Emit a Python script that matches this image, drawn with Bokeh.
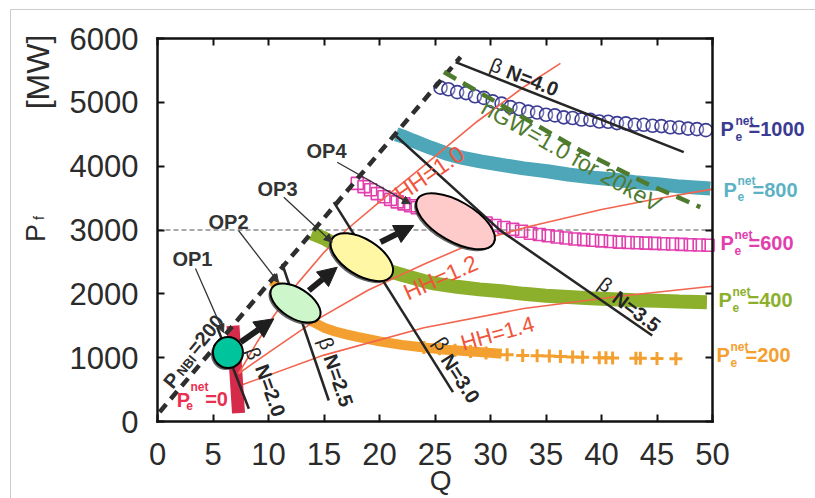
import numpy as np
from bokeh.plotting import figure
from bokeh.models import Range1d, LinearAxis, FixedTicker, Arrow, NormalHead
from bokeh.core.properties import value
from bokeh.embed import file_html
from bokeh.resources import INLINE

# ---------------- data ----------------
q_ticks = [0, 5, 10, 15, 20, 25, 30, 35, 40, 45, 50]
pf_ticks = [0, 1000, 2000, 3000, 4000, 5000, 6000]

# P_e^net = 1000 (open circles)
pe1000_q = [25.5, 26.2, 27.0, 27.8, 28.6, 29.4, 30.2, 31.0, 31.8, 32.6, 33.4, 34.2, 35.0, 35.8, 36.6,
            37.4, 38.2, 39.0, 39.8, 40.6, 41.4, 42.2, 43.0, 43.8, 44.6, 45.4, 46.2, 47.0, 47.8, 48.6, 49.4]
pe1000_pf = [5230, 5205, 5160, 5145, 5095, 5070, 5015, 4980, 4925, 4895, 4855, 4840, 4805, 4795, 4765,
             4755, 4730, 4725, 4700, 4695, 4675, 4670, 4650, 4648, 4632, 4628, 4610, 4605, 4588, 4580, 4565]
# P_e^net = 800 (band)
pe800_q = [21.5, 22.2, 23.0, 24.6, 26.0, 27.5, 29.1, 31.0, 33.0, 35.1, 37.0, 39.3, 41.1, 43.0, 45.3, 47.1, 49.8]
pe800_pf = [4500, 4460, 4400, 4290, 4200, 4130, 4075, 4020, 3965, 3920, 3870, 3820, 3790, 3750, 3715, 3680, 3650]
# P_e^net = 600 (open squares)
pe600_q = [18.0, 18.6, 19.2, 19.8, 20.4, 21.0, 21.6, 22.2, 22.8, 23.4, 24.0, 24.8, 25.6, 26.4, 27.2, 28.0,
           28.8, 29.6, 30.4, 31.2, 32.0, 32.8, 33.6, 34.4, 35.2, 36.0, 36.8, 37.6, 38.4, 39.2, 40.0, 40.8,
           41.6, 42.4, 43.2, 44.0, 44.8, 45.6, 46.4, 47.2, 48.0, 48.8, 49.6]
pe600_pf = [3730, 3680, 3630, 3570, 3520, 3480, 3440, 3410, 3380, 3350, 3320, 3290, 3260, 3230, 3200, 3170,
            3140, 3110, 3070, 3040, 3010, 2980, 2950, 2930, 2910, 2890, 2875, 2860, 2850, 2840, 2830, 2820,
            2810, 2805, 2800, 2795, 2790, 2785, 2780, 2775, 2770, 2765, 2760]
# P_e^net = 400 (band)
pe400_q = [13.9, 15.0, 16.0, 17.0, 18.0, 19.0, 20.0, 21.0, 22.0, 23.0, 24.0, 25.0, 27.0, 29.0, 31.0, 33.0,
           35.0, 37.0, 39.0, 41.0, 43.0, 45.0, 47.0, 49.5]
pe400_pf = [2950, 2870, 2770, 2670, 2580, 2500, 2420, 2350, 2300, 2250, 2200, 2160, 2110, 2070, 2040, 2000,
            1970, 1950, 1930, 1915, 1900, 1890, 1880, 1870]
# P_e^net = 200 (dense band, then crosses)
pe200_band_q = [10.4, 11.0, 12.0, 13.0, 14.0, 15.0, 16.0, 17.0, 18.0, 19.0, 20.0, 22.0, 24.0, 26.0, 28.0, 30.0, 31.0]
pe200_band_pf = [2200, 2060, 1860, 1690, 1560, 1470, 1410, 1365, 1325, 1290, 1255, 1200, 1160, 1125, 1100, 1075, 1060]
pe200_q = [24.0, 25.4, 26.8, 28.2, 29.6, 31.5, 32.9, 34.2, 35.3, 36.3, 37.4, 38.3, 39.8, 40.4, 41.0, 43.1, 43.5, 45.0, 46.7]
pe200_pf = [1160, 1140, 1115, 1095, 1075, 1045, 1035, 1030, 1025, 1018, 1012, 1008, 1000, 998, 995, 990, 990, 985, 982]
# P_e^net = 0 (band)
pe0_q = [6.8, 7.05, 7.3]
pe0_pf = [1500, 800, 130]

# confinement (HH) lines
hh10_q = [7.3, 9.0, 10.5, 12.6, 15.0, 17.0, 20.0, 24.0, 28.8, 33.0, 36.3]
hh10_pf = [750, 1250, 1660, 2160, 2650, 3000, 3440, 4010, 4700, 5240, 5610]
hh12_q = [7.3, 10.0, 14.2, 19.0, 24.1, 29.0, 33.6, 40.0, 45.0, 50.0]
hh12_pf = [750, 1080, 1580, 2060, 2470, 2840, 3060, 3320, 3490, 3640]
hh14_q = [7.7, 15.0, 24.0, 33.0, 42.0, 50.0]
hh14_pf = [580, 1040, 1470, 1770, 1970, 2120]

# beta_N lines
bn20_q = [5.38, 8.23];   bn20_pf = [1477, 199]
bn25_q = [11.23, 15.43]; bn25_pf = [2471, 329]
bn30_q = [15.88, 26.62]; bn30_pf = [3436, 459]
bn35_q = [21.44, 30.9, 44.57]; bn35_pf = [4480, 2990, 1347]
bn40_q = [26.85, 47.41]; bn40_pf = [5629, 4219]

# P_NBI = 200 line and Greenwald line
nbi_q = [0.2, 27.3];   nbi_pf = [150, 5710]
ngw_q = [25.8, 32.1, 38.1, 44.1, 48.9]
ngw_pf = [5474, 4847, 4247, 3725, 3358]
ref_pf = 3000

# operating points
op_names = ["OP1", "OP2", "OP3", "OP4"]
op_q = [6.35, 12.43, 18.41, 26.85]
op_pf = [1080, 1856, 2574, 3136]

# ---------------- figure ----------------
FONT = "Liberation Sans"
NAVY, TEAL, MAG, OLIVE, ORANGE, RED = "#3b3b93", "#4ea6b9", "#e23fae", "#8cb02c", "#f4a030", "#d52b4a"
HH_C, HH_T, BN_C, GW_C, DARK = "#f2644e", "#f0553c", "#262626", "#4f7b2f", "#2b2b2b"

W, H = 815, 498
# frame fills the canvas; the axes sit at fixed data locations (Q: 0..50 over 555 px, P: 0..6000 over 383 px)
QPX, PPX = 555 / 50.0, 383 / 6000.0
x0 = -157 / QPX
x1 = 50 + (W - 712) / QPX
y1 = 6000 + 38 / PPX
y0 = -(H - 421) / PPX

p = figure(width=W, height=H, min_border=0, x_range=Range1d(x0, x1), y_range=Range1d(y0, y1),
           output_backend="svg", toolbar_location=None)
p.title.visible = False
p.grid.visible = False
p.outline_line_color = None


def style_axis(ax, show_labels):
    ax.axis_line_width = 2.5
    ax.axis_line_color = "#111111"
    ax.axis_line_cap = "square"
    ax.major_tick_in = 7
    ax.major_tick_out = 0
    ax.major_tick_line_width = 2
    ax.major_tick_line_color = "#111111"
    ax.minor_tick_line_color = None
    ax.major_label_text_font = FONT
    ax.major_label_text_font_size = "31px"
    ax.major_label_text_color = DARK
    if not show_labels:
        ax.major_label_text_alpha = 0


xa, ya = p.xaxis[0], p.yaxis[0]
style_axis(xa, True)
style_axis(ya, True)
xa.ticker = FixedTicker(ticks=q_ticks)
ya.ticker = FixedTicker(ticks=pf_ticks)
xa.fixed_location = 0
ya.fixed_location = 0
xa.bounds = (0, 50)
ya.bounds = (0, 6000)
xa.major_label_standoff = 21
ya.major_label_standoff = 19

top = LinearAxis(ticker=FixedTicker(ticks=q_ticks), fixed_location=6000, bounds=(0, 50))
style_axis(top, False)
p.add_layout(top, "above")
right = LinearAxis(ticker=FixedTicker(ticks=pf_ticks), fixed_location=50, bounds=(0, 6000))
style_axis(right, False)
p.add_layout(right, "right")

# thin grey page frame (top and left edges of the original figure)
p.line([x0 + 10 / QPX, x1], [y1 - 9 / PPX, y1 - 9 / PPX], line_color="#cccccc", line_width=1)
p.line([x0 + 10 / QPX, x0 + 10 / QPX], [y0, y1 - 9 / PPX], line_color="#cccccc", line_width=1)

# reference line P_f = 3000
p.line([0, 50], [ref_pf, ref_pf], line_color="#555555", line_width=1.2, line_dash="5 3")

# fusion-power series
p.line(pe800_q, pe800_pf, line_color=TEAL, line_width=14)
p.line(pe400_q, pe400_pf, line_color=OLIVE, line_width=14)
p.line(pe200_band_q, pe200_band_pf, line_color=ORANGE, line_width=10)
p.scatter(pe200_q, pe200_pf, marker="cross", size=13, line_color=ORANGE, line_width=3)
p.line(pe0_q, pe0_pf, line_color=RED, line_width=13)
p.scatter(pe600_q, pe600_pf, marker="square", size=12, fill_color=None, line_color=MAG, line_width=1.6)
p.scatter(pe1000_q, pe1000_pf, marker="circle", size=13, fill_color="white", fill_alpha=0.3,
          line_color=NAVY, line_width=1.6)

# HH lines
for qq, pp in ((hh10_q, hh10_pf), (hh12_q, hh12_pf), (hh14_q, hh14_pf)):
    p.line(qq, pp, line_color=HH_C, line_width=1.6)
# beta_N lines
for qq, pp in ((bn20_q, bn20_pf), (bn25_q, bn25_pf), (bn30_q, bn30_pf), (bn35_q, bn35_pf), (bn40_q, bn40_pf)):
    p.line(qq, pp, line_color=BN_C, line_width=2.5)
# P_NBI line and Greenwald
p.line(nbi_q, nbi_pf, line_color="#2e2e2e", line_width=4.5, line_dash="10 7")
p.line(ngw_q, ngw_pf, line_color=GW_C, line_width=4.5, line_dash="14 8")

# operating-point ellipses (sizes in screen px)
op_w = [30, 56, 70, 88]
op_h = [31, 30, 36, 40]
op_ang = np.deg2rad([0, -32, -32, -30])
op_fill = ["#00c49c", "#cdf7cb", "#fff7a3", "#ffcaca"]
p.ellipse(x=[q - 0.18 for q in op_q], y=[v - 31 for v in op_pf], width=op_w, height=op_h, angle=op_ang,
          width_units="screen", height_units="screen", fill_color="#4a4a4a", line_color=None, fill_alpha=0.85)
p.ellipse(x=op_q, y=op_pf, width=op_w, height=op_h, angle=op_ang,
          width_units="screen", height_units="screen", fill_color=op_fill, line_color="black", line_width=2)


def ptext(q, pf, s, size, color, ang=0.0, bold=False, align="center", baseline="middle"):
    p.text(x=[q], y=[pf], text=[s], angle=float(np.deg2rad(ang)),
           text_font=value(FONT), text_font_size=value(f"{size}px"),
           text_font_style="bold" if bold else "normal", text_color=color,
           text_align=align, text_baseline=baseline)


# thick transition arrows
for a0, b0, a1, b1 in ((7.48, 1242, 10.48, 1609), (13.63, 2052, 16.19, 2417), (20.09, 2809, 23.09, 3071)):
    p.add_layout(Arrow(end=NormalHead(size=19, fill_color="#1e1e1e", line_color="#1e1e1e"),
                       x_start=a0, y_start=b0, x_end=a1, y_end=b1, line_width=6, line_color="#1e1e1e"))
# label pointers
for a0, b0, a1, b1 in ((3.42, 2397, 5.95, 1394), (7.30, 2992, 10.9, 2178),
                       (11.38, 3514, 15.74, 2809), (16.19, 4062, 22.79, 3410)):
    p.add_layout(Arrow(end=NormalHead(size=8, fill_color="#333333", line_color="#333333"),
                       x_start=a0, y_start=b0, x_end=a1, y_end=b1, line_width=1.3, line_color="#333333"))

# OP labels
for name, q, v in zip(op_names, [3.15, 6.40, 10.81, 15.23], [2538, 3118, 3650, 4230]):
    ptext(q, v, name, 20, "#333333", bold=True)

# beta_N labels
for bq, bp, nq, npf, ang, s in ((30.54, 5577, 33.78, 5342, -21.5, "N=4.0"),
                                (40.36, 2146, 43.15, 1723, -37, "N=3.5"),
                                (25.59, 1222, 27.3, 674, -57, "N=3.0"),
                                (15.23, 1222, 16.31, 642, -71, "N=2.5"),
                                (8.65, 1065, 10.18, 486, -70, "N=2.0")):
    ptext(bq, bp, "β", 20, BN_C, ang)
    ptext(nq, npf, s, 20, BN_C, ang, bold=True)

# HH labels
ptext(24.5, 3885, "HH=1.0", 23, HH_T, 34.5)
ptext(25.5, 2256, "HH=1.2", 23, HH_T, 24)
ptext(30.63, 1379, "HH=1.4", 22, HH_T, 15.7)

# Greenwald label
ptext(37.3, 4167, "nGW=1.0 for 20keV", 23, GW_C, -29.6)

# P_NBI label
ptext(1.26, 642, "P", 20, "#2e2e2e", 50.4, bold=True)
ptext(2.61, 877, "NBI", 13, "#2e2e2e", 50.4, bold=True)
ptext(4.32, 1363, "=200", 20, "#2e2e2e", 50.4, bold=True)

# P_e^net = 0 label
ptext(2.34, 329, "P", 20, "#e83050", bold=True)
ptext(3.78, 548, "net", 12, "#e83050", bold=True)
ptext(2.88, 251, "e", 12, "#e83050", bold=True)
ptext(5.32, 360, "=0", 20, "#e83050", bold=True)

# right-hand P_e^net labels
for xp, xs, xe, yv, s, c in ((50.72, 52.07, 53.24, 4575, "=1000", NAVY),
                             (50.99, 52.25, 53.60, 3634, "=800", "#5cb2c4"),
                             (50.72, 51.98, 53.24, 2789, "=600", MAG),
                             (50.54, 51.80, 53.15, 1896, "=400", OLIVE),
                             (50.36, 51.62, 52.97, 1034, "=200", ORANGE)):
    ptext(xp, yv, "P", 20, c, bold=True, align="left")
    ptext(xs, yv + 130, "net", 12, c, bold=True, align="left")
    ptext(xs, yv - 115, "e", 12, c, bold=True, align="left")
    ptext(xe, yv, s, 20, c, bold=True, align="left")

# axis titles
ptext(-10.95, 2953, "P", 27, DARK, 90)
ptext(-10.72, 3188, "f", 14, DARK, 90)
ptext(-10.77, 5475, "[MW]", 32, DARK, 90)
ptext(25.5, -925, "Q", 28, DARK)

open("out.html", "w").write(file_html(p, INLINE))
